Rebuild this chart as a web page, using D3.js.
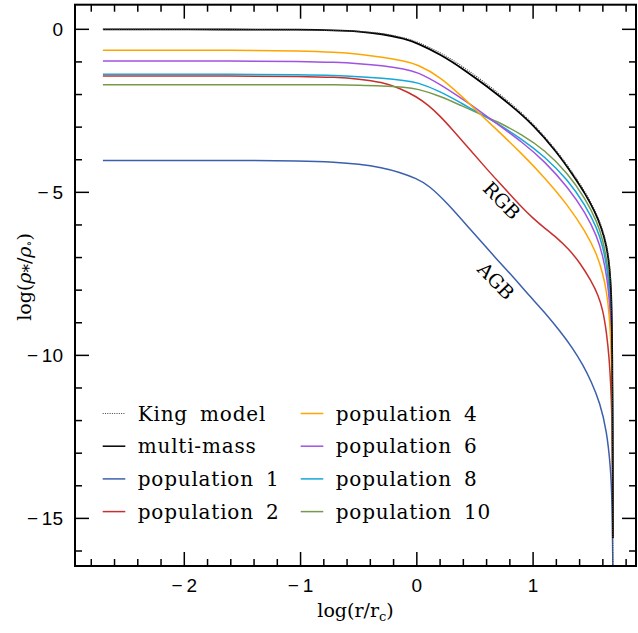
<!DOCTYPE html>
<html>
<head>
<meta charset="utf-8">
<script src="https://cdn.jsdelivr.net/npm/d3@7"></script>
<style>
  body { margin: 0; background: #fff; }
  .tick-label { font-family: "Liberation Sans", Arial, sans-serif; font-size: 19px; }
  .serif { font-family: "DejaVu Serif", serif; }
</style>
</head>
<body>
<svg id="chart" width="638" height="633"></svg>
<script>
// log(r/rc), log(rho/rho0)
const kingModel = [[-2.70,0.00],[-1.0,-0.01],[-0.5,-0.05],[-0.3,-0.12],[-0.1,-0.26],[0.0,-0.38],[0.2,-0.70],[0.4,-1.15],[0.6,-1.67],[0.8,-2.24],[1.0,-2.88],[1.2,-3.70],[1.35,-4.45],[1.45,-5.0],[1.53,-5.52],[1.59,-6.05],[1.63,-6.55],[1.655,-7.1],[1.67,-7.8],[1.677,-8.7],[1.681,-10.0],[1.684,-12.0],[1.686,-16.5]];
const multiMass = [[-2.70,0.00],[-1.5,-0.005],[-1.0,-0.01],[-0.7,-0.03],[-0.5,-0.06],[-0.3,-0.14],[-0.1,-0.29],[0.0,-0.42],[0.2,-0.76],[0.4,-1.22],[0.6,-1.74],[0.8,-2.30],[1.0,-2.92],[1.2,-3.74],[1.35,-4.50],[1.45,-5.05],[1.53,-5.58],[1.59,-6.10],[1.63,-6.62],[1.655,-7.2],[1.67,-7.9],[1.677,-8.8],[1.681,-10.0],[1.684,-12.0],[1.686,-15.6]];
const pop1 = [[-2.70,-4.02],[-1.5,-4.02],[-1.0,-4.03],[-0.7,-4.07],[-0.5,-4.13],[-0.3,-4.24],[-0.15,-4.38],[0.0,-4.58],[0.1,-4.78],[0.26,-5.32],[0.46,-6.14],[0.69,-7.06],[0.85,-7.68],[0.97,-8.18],[1.1,-8.68],[1.23,-9.25],[1.345,-9.80],[1.43,-10.30],[1.5,-10.80],[1.575,-11.45],[1.632,-12.3],[1.666,-13.4],[1.68,-14.45],[1.686,-16.5]];
const pop2 = [[-2.70,-1.43],[-1.5,-1.43],[-1.0,-1.44],[-0.7,-1.47],[-0.5,-1.52],[-0.3,-1.62],[-0.15,-1.80],[0.0,-2.07],[0.1,-2.33],[0.2,-2.66],[0.3,-3.05],[0.45,-3.66],[0.6,-4.28],[0.7,-4.67],[0.8,-5.06],[0.9,-5.45],[1.0,-5.80],[1.1,-6.10],[1.2,-6.38],[1.3,-6.72],[1.4,-7.14],[1.5,-7.72],[1.56,-8.15],[1.6,-8.6],[1.632,-9.3],[1.655,-10.1],[1.67,-11.0],[1.68,-12.2],[1.685,-14.0],[1.686,-15.6]];
const pop4 = [[-2.70,-0.64],[-1.5,-0.64],[-1.0,-0.66],[-0.7,-0.70],[-0.5,-0.76],[-0.3,-0.85],[-0.1,-0.98],[0.0,-1.07],[0.2,-1.45],[0.4,-2.10],[0.5,-2.45],[0.7,-3.12],[0.9,-3.80],[1.1,-4.55],[1.3,-5.40],[1.45,-6.20],[1.55,-6.90],[1.6,-7.50],[1.63,-8.0],[1.655,-8.7],[1.672,-9.8],[1.68,-11.0],[1.684,-13.0],[1.686,-15.6]];
const pop6 = [[-2.70,-0.97],[-1.5,-0.97],[-1.0,-0.98],[-0.7,-1.01],[-0.5,-1.05],[-0.3,-1.11],[-0.1,-1.22],[0.0,-1.30],[0.2,-1.68],[0.4,-2.16],[0.5,-2.40],[0.7,-2.92],[0.9,-3.44],[1.1,-4.05],[1.3,-4.85],[1.45,-5.62],[1.55,-6.35],[1.6,-6.95],[1.635,-7.6],[1.66,-8.4],[1.674,-9.5],[1.681,-11.0],[1.685,-13.0],[1.686,-15.6]];
const pop8 = [[-2.70,-1.38],[-1.5,-1.38],[-1.0,-1.39],[-0.7,-1.41],[-0.5,-1.45],[-0.3,-1.50],[-0.1,-1.57],[0.0,-1.62],[0.2,-1.90],[0.4,-2.30],[0.5,-2.50],[0.7,-2.90],[0.9,-3.36],[1.1,-3.90],[1.3,-4.62],[1.45,-5.40],[1.55,-6.10],[1.6,-6.65],[1.64,-7.4],[1.662,-8.2],[1.675,-9.3],[1.682,-11.0],[1.685,-13.0],[1.686,-15.6]];
const pop10 = [[-2.70,-1.70],[-1.5,-1.70],[-1.0,-1.70],[-0.7,-1.70],[-0.5,-1.71],[-0.3,-1.73],[-0.1,-1.78],[0.0,-1.82],[0.2,-2.04],[0.4,-2.37],[0.5,-2.53],[0.7,-2.84],[0.9,-3.22],[1.1,-3.70],[1.3,-4.42],[1.45,-5.20],[1.55,-5.90],[1.6,-6.45],[1.64,-7.2],[1.665,-8.1],[1.677,-9.3],[1.683,-11.0],[1.685,-13.0],[1.686,-15.6]];

const seriesNames = ['King model', 'multi-mass', 'population 1', 'population 2', 'population 4', 'population 6', 'population 8', 'population 10'];
const seriesData = [kingModel, multiMass, pop1, pop2, pop4, pop6, pop8, pop10];
const seriesColors = ['#444444', '#000000', '#3b5fad', '#c8302e', '#ffa500', '#a052e0', '#12a8d8', '#77994a'];

const xMajorTicks = [-2, -1, 0, 1];
const yMajorTicks = [0, -5, -10, -15];
const branchLabels = [{ text: 'RGB', x: 0.73, y: -5.25 }, { text: 'AGB', x: 0.68, y: -7.72 }];

const svg = d3.select('#chart');
const box = { left: 75, right: 636, top: 4.7, bottom: 566 };

const x = d3.scaleLinear().domain([-2.94, 1.885]).range([box.left, box.right]);
const y = d3.scaleLinear().domain([0.755, -16.46]).range([box.top, box.bottom]);

svg.append('defs').append('clipPath').attr('id', 'plot-clip')
  .append('rect')
  .attr('x', box.left).attr('y', box.top)
  .attr('width', box.right - box.left).attr('height', box.bottom - box.top);

// curves, drawn back to front
const lineGen = d3.line()
  .x(d => x(d[0]))
  .y(d => y(d[1]))
  .curve(d3.curveBasis);

const curves = svg.append('g').attr('clip-path', 'url(#plot-clip)');
const drawOrder = [2, 3, 7, 6, 5, 4, 1, 0];
drawOrder.forEach(i => {
  curves.append('path')
    .attr('d', lineGen(seriesData[i]))
    .attr('fill', 'none')
    .attr('stroke', seriesColors[i])
    .attr('stroke-width', i === 0 ? 1.2 : (i === 1 ? 1.8 : 1.5))
    .attr('stroke-dasharray', i === 0 ? '1,1.3' : null);
});

// axes on all four sides, ticks pointing inward
const xMinor = d3.range(-2.8, 1.81, 0.2).map(v => +v.toFixed(1));
const yMinor = d3.range(0, -16.1, -1);

function xTicks(sel, y0, dir) {
  sel.selectAll(null).data(xMinor).enter().append('line')
    .attr('x1', d => x(d)).attr('x2', d => x(d))
    .attr('y1', y0)
    .attr('y2', d => y0 + dir * (xMajorTicks.includes(Math.round(d * 10) / 10) ? 14 : 7));
}
function yTicks(sel, x0, dir) {
  sel.selectAll(null).data(yMinor).enter().append('line')
    .attr('y1', d => y(d)).attr('y2', d => y(d))
    .attr('x1', x0)
    .attr('x2', d => x0 + dir * (d % 5 === 0 ? 14 : 7));
}

const ticks = svg.append('g').attr('stroke', '#000').attr('stroke-width', 1.5);
xTicks(ticks, box.bottom, -1);
xTicks(ticks, box.top, 1);
yTicks(ticks, box.left, 1);
yTicks(ticks, box.right, -1);

svg.append('rect')
  .attr('x', box.left).attr('y', box.top)
  .attr('width', box.right - box.left).attr('height', box.bottom - box.top)
  .attr('fill', 'none').attr('stroke', '#000').attr('stroke-width', 2);

const fmt = v => (v < 0 ? '\u2212\u2009' + Math.abs(v) : String(v));

svg.append('g').selectAll('text').data(xMajorTicks).enter().append('text')
  .attr('class', 'tick-label')
  .attr('x', d => x(d)).attr('y', 592)
  .attr('text-anchor', 'middle')
  .text(fmt);

svg.append('g').selectAll('text').data(yMajorTicks).enter().append('text')
  .attr('class', 'tick-label')
  .attr('x', 63).attr('y', d => y(d))
  .attr('dy', '0.35em')
  .attr('text-anchor', 'end')
  .text(fmt);

// axis titles
const xTitle = svg.append('text').attr('class', 'serif')
  .attr('x', (box.left + box.right) / 2).attr('y', 617)
  .attr('text-anchor', 'middle').attr('font-size', 19);
xTitle.append('tspan').text('log(r/r');
xTitle.append('tspan').attr('font-size', 13).attr('dy', 4).text('c');
xTitle.append('tspan').attr('dy', -4).text(')');

const yTitle = svg.append('text').attr('class', 'serif')
  .attr('transform', 'translate(31,277) rotate(-90)')
  .attr('text-anchor', 'middle').attr('font-size', 19);
yTitle.append('tspan').text('log(');
yTitle.append('tspan').attr('font-style', 'italic').text('\u03c1');
yTitle.append('tspan').attr('font-size', 17).attr('dy', 4).text('*');
yTitle.append('tspan').attr('dy', -4).text('/');
yTitle.append('tspan').attr('font-style', 'italic').text('\u03c1');
yTitle.append('tspan').attr('font-size', 12).attr('dy', 2).text('\u2218');
yTitle.append('tspan').attr('dy', -2).text(')');

// branch labels
svg.append('g').selectAll('text').data(branchLabels).enter().append('text')
  .attr('class', 'serif')
  .attr('font-size', 19)
  .attr('text-anchor', 'middle')
  .attr('dy', '0.35em')
  .attr('transform', d => `translate(${x(d.x)},${y(d.y)}) rotate(46)`)
  .text(d => d.text);

// legend: two columns of four rows
const legend = svg.append('g');
seriesNames.forEach((name, i) => {
  const col = Math.floor(i / 4);
  const row = i % 4;
  const lx = col === 0 ? 102.7 : 300.7;
  const ly = 413.5 + row * 32.7;
  legend.append('line')
    .attr('x1', lx).attr('x2', lx + 22.6)
    .attr('y1', ly).attr('y2', ly)
    .attr('stroke', seriesColors[i])
    .attr('stroke-width', i === 0 ? 1.2 : 1.5)
    .attr('stroke-dasharray', i === 0 ? '1,1.3' : null);
  legend.append('text')
    .attr('class', 'serif')
    .attr('font-size', 20)
    .attr('letter-spacing', 0.8)
    .attr('word-spacing', 5)
    .attr('x', lx + 35).attr('y', ly)
    .attr('dy', '0.35em')
    .text(name);
});
</script>
</body>
</html>
